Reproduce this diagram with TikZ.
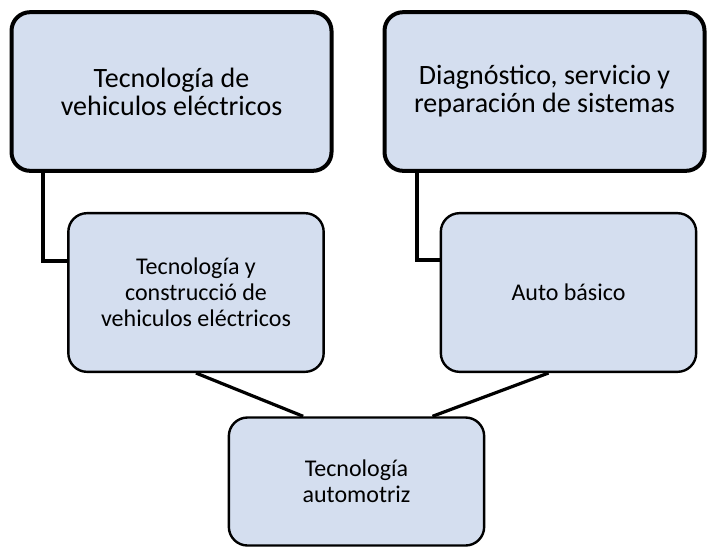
\documentclass[tikz,border=0pt]{standalone}
\usepackage{fontspec}
\setmainfont{Carlito}
\definecolor{boxfill}{RGB}{212,222,239}
\begin{document}
\begin{tikzpicture}[x=0.75pt,y=-0.75pt,
	box/.style={draw,fill=boxfill,rounded corners=14pt,align=center,inner sep=0pt},
	bigbox/.style={box,line width=3pt,minimum width=240pt,minimum height=119pt,font=\fontsize{21}{21}\selectfont},
	smallbox/.style={box,line width=1.8pt,minimum width=191.5pt,font=\fontsize{18}{19.5}\selectfont},
	connector/.style={draw,line width=2.4pt}]
\useasboundingbox (0,0) rectangle (710,550);
\coordinate (elecbend) at (43,261);
\coordinate (diagbend) at (417,260);
\node[bigbox] (elec) at (171.5,91.5) {Tecnología de\\vehiculos eléctricos};
\node[bigbox] (diag) at (544.5,91.5) {Diagnóstico, servicio y\\reparación de sistemas};
\node[smallbox,minimum height=119pt] (constr) at (196,292.5) {Tecnología y\\construcció de\\vehiculos eléctricos};
\node[smallbox,minimum height=119pt] (basico) at (568.5,292.5) {Auto básico};
\node[smallbox,minimum height=96pt] (automotriz) at (356.5,481.5) {Tecnología\\automotriz};
\path[connector] (elec.south -| elecbend) -- (elecbend) -- (constr.west |- elecbend);
\path[connector] (diag.south -| diagbend) -- (diagbend) -- (basico.west |- diagbend);
\path[connector] (constr.south) -- ([xshift=-40pt]automotriz.north);
\path[connector] ([xshift=-15pt]basico.south) -- ([xshift=57pt]automotriz.north);
\end{tikzpicture}
\end{document}
